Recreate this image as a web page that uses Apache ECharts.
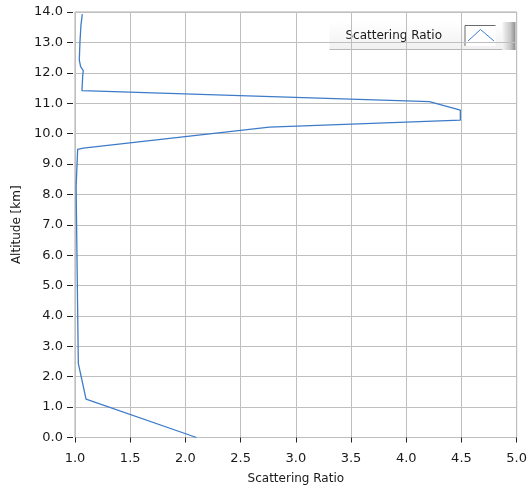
<!DOCTYPE html>
<html>
<head>
<meta charset="utf-8">
<script src="https://cdn.jsdelivr.net/npm/echarts@6/dist/echarts.min.js"></script>
<style>
  html, body { margin: 0; padding: 0; background: #ffffff; }
  #chart { width: 530px; height: 491px; }
</style>
</head>
<body>
<div id="chart"></div>
<script>
// Lidar scattering-ratio profile: ratio vs. altitude (km)
const altitudeKm = [0.0, 1.26, 2.44, 8.25, 8.27, 9.48, 9.52, 10.21, 10.44, 10.77, 11.05, 11.41, 11.92, 12.07, 12.2, 12.42, 13.02, 13.57, 13.93];
const scatteringRatio = [2.10, 1.10, 1.03, 1.01, 1.024, 1.024, 1.075, 2.76, 4.49, 4.49, 4.21, 1.063, 1.07, 1.075, 1.051, 1.039, 1.045, 1.054, 1.066];

const seriesName = 'Scattering Ratio';
const xAxisTitle = 'Scattering Ratio';
const yAxisTitle = 'Altitude [km]';

const FONT = 'DejaVu Sans';
const TEXT = '#1a1a1a';
const GRID_LINE = '#bfbfbf';

const chart = echarts.init(document.getElementById('chart'), null, { renderer: 'canvas' });

const points = scatteringRatio.map((r, i) => [r, altitudeKm[i]]);

// legend plate in the upper-right corner
const lx = 327, ly = 22, lw = 186, lh = 28;

chart.setOption({
  animation: false,
  backgroundColor: '#ffffff',
  grid: {
    left: 75, right: 12, top: 12, bottom: 53.5,
    show: true,
    backgroundColor: '#ffffff',
    borderColor: '#acacac',
    borderWidth: 1
  },
  xAxis: {
    type: 'value',
    min: 1, max: 5, interval: 0.5,
    offset: 3,
    name: xAxisTitle,
    nameLocation: 'middle',
    nameGap: 32,
    nameTextStyle: { fontFamily: FONT, fontSize: 12, color: TEXT },
    axisLine: { show: false },
    axisTick: { show: true, length: 5, lineStyle: { color: '#222', width: 1 } },
    axisLabel: { fontFamily: FONT, fontSize: 13, color: TEXT, margin: 12, formatter: v => v.toFixed(1) },
    splitLine: { show: true, lineStyle: { color: GRID_LINE, width: 1 } }
  },
  yAxis: {
    type: 'value',
    min: 0, max: 14, interval: 1,
    offset: 2,
    name: yAxisTitle,
    nameLocation: 'middle',
    nameGap: 43,
    nameRotate: 90,
    nameTextStyle: { fontFamily: FONT, fontSize: 12, color: TEXT },
    axisLine: { show: false },
    axisTick: { show: true, length: 6, lineStyle: { color: '#222', width: 1 } },
    axisLabel: { fontFamily: FONT, fontSize: 13, color: TEXT, margin: 10, formatter: v => v.toFixed(1) },
    splitLine: { show: true, lineStyle: { color: GRID_LINE, width: 1 } }
  },
  series: [{
    name: seriesName,
    type: 'line',
    data: points,
    showSymbol: false,
    symbol: 'none',
    lineStyle: { color: '#3d7bc9', width: 1.3 },
    z: 3
  }],
  graphic: [
    {
      type: 'group', left: lx, top: ly, z: 10,
      children: [
        {
          type: 'rect', shape: { x: 0, y: 0, width: lw, height: lh },
          style: {
            fill: new echarts.graphic.LinearGradient(0, 0, 0, 1, [
              { offset: 0, color: '#ffffff' },
              { offset: 1, color: '#f0f0f0' }
            ])
          }
        },
        {
          type: 'line', shape: { x1: 0, y1: lh - 0.5, x2: lw, y2: lh - 0.5 },
          style: { stroke: '#b8b8b8', lineWidth: 1 }
        },
        {
          type: 'rect', shape: { x: lw - 13, y: 0, width: 13, height: lh },
          style: {
            fill: new echarts.graphic.LinearGradient(0, 0, 1, 0, [
              { offset: 0, color: '#f4f4f4' },
              { offset: 0.6, color: '#c8c8c8' },
              { offset: 1, color: '#8c8c8c' }
            ])
          }
        },
        {
          type: 'text', x: 16, y: lh / 2,
          style: {
            text: seriesName, fontFamily: FONT, fontSize: 12, fill: TEXT,
            textVerticalAlign: 'middle', verticalAlign: 'middle'
          }
        },
        {
          type: 'rect', shape: { x: 135, y: 3, width: 31, height: 21 },
          style: { fill: '#ffffff', stroke: null }
        },
        {
          type: 'polyline', shape: { points: [[135.5, 24], [135.5, 3.5], [166, 3.5]] },
          style: { stroke: '#6a6a6a', lineWidth: 1, fill: null }
        },
        {
          type: 'polyline', shape: { points: [[138.5, 19], [151, 7.5], [164.5, 19]] },
          style: { stroke: '#3d7bc9', lineWidth: 1, fill: null }
        }
      ]
    }
  ]
});
</script>
</body>
</html>
